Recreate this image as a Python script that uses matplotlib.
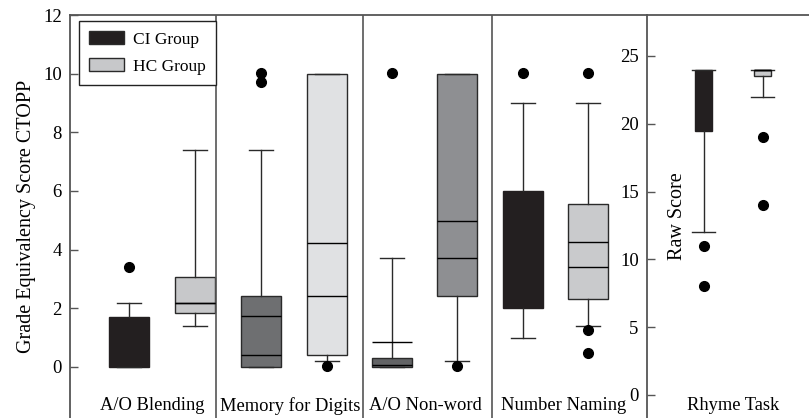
import matplotlib
matplotlib.use("Agg")
import matplotlib.pyplot as plt
from matplotlib.patches import Patch

plt.rcParams['font.family'] = ['Liberation Serif', 'DejaVu Serif']

# ---------------- data ----------------
tasks = ["A/O Blending", "Memory for Digits", "A/O Non-word", "Number Naming"]
groups = ["CI Group", "HC Group"]

# grade equivalency (left axis)
ci_q1 = [0.00, 0.00, 0.00, 2.01]
ci_med = [0.90, 0.41, 0.05, 3.03]
ci_q3 = [1.70, 2.42, 0.32, 6.01]
ci_mean = [0.90, 1.74, 0.86, 4.27]
ci_wlo = [0.00, 0.00, 0.00, 1.00]
ci_whi = [2.18, 7.40, 3.71, 9.00]
ci_fliers = [[3.41], [10.03, 9.73], [10.03], [10.03]]

hc_q1 = [1.84, 0.41, 2.42, 2.31]
hc_med = [2.18, 2.42, 3.71, 3.40]
hc_q3 = [3.07, 10.00, 10.00, 5.56]
hc_mean = [2.18, 4.22, 4.97, 4.27]
hc_wlo = [1.40, 0.21, 0.21, 1.41]
hc_whi = [7.40, 10.00, 10.00, 9.00]
hc_fliers = [[], [0.04], [0.04], [10.03, 1.26, 0.47]]

# rhyme task raw scores (right axis)
rhyme_task = "Rhyme Task"
rh_q1 = [19.47, 23.50]
rh_med = [23.00, 24.00]
rh_q3 = [24.00, 24.00]
rh_wlo = [12.00, 22.00]
rh_whi = [24.00, 24.00]
rh_fliers = [[11.0, 8.04], [19.05, 14.03]]

left_ticks = [0, 2, 4, 6, 8, 10, 12]
right_ticks = [0, 5, 10, 15, 20, 25]

# ---------------- styling / layout ----------------
BLACK = "#231f20"
ci_colors = [BLACK, "#6e6f71", "#636466", BLACK]
hc_colors = ["#c7c8ca", "#e0e1e3", "#8e8f92", "#c9cacc"]
rh_colors = [BLACK, "#c8c9cb"]

W, H = 809, 418
fig = plt.figure(figsize=(W / 100, H / 100), dpi=100)

x0, xr, ytop = 70, 647, 15
ax = fig.add_axes([x0 / W, 0, (xr - x0) / W, 1 - ytop / H])
axr = fig.add_axes([xr / W, 0, (W - xr) / W, 1 - ytop / H])

ci_pos = [129, 261, 392, 523]
hc_pos = [195, 327, 457, 588]
seps = [216, 363, 492]
label_x = [152, 290, 425, 564]
rh_pos = [703.5, 762.5]

edge = "#2a2a2a"
fs = 13.5


def stats(q1, med, q3, mean, lo, hi, fl):
    return dict(q1=q1, med=med, q3=q3, mean=mean, whislo=lo, whishi=hi, fliers=fl)


def draw(a, st, pos, colors, width, capw):
    bp = a.bxp(st, positions=pos, widths=width, capwidths=capw, patch_artist=True,
               showmeans=True, meanline=True, manage_ticks=False,
               boxprops=dict(edgecolor=edge, linewidth=1.0),
               medianprops=dict(color="black", linewidth=1.0),
               meanprops=dict(color="black", linestyle="-", linewidth=1.0),
               whiskerprops=dict(color=edge, linewidth=1.0),
               capprops=dict(color=edge, linewidth=1.0),
               flierprops=dict(marker="o", markerfacecolor="black",
                               markeredgecolor="black", markersize=7))
    for i, (p, c) in enumerate(zip(bp["boxes"], colors)):
        p.set_facecolor(c)
        if c == BLACK:
            p.set_edgecolor(BLACK)
            bp["medians"][i].set_color(BLACK)
            bp["means"][i].set_color(BLACK)


st_all, pos_all, col_all = [], [], []
for i in range(len(tasks)):
    st_all.append(stats(ci_q1[i], ci_med[i], ci_q3[i], ci_mean[i], ci_wlo[i], ci_whi[i], ci_fliers[i]))
    pos_all.append(ci_pos[i]); col_all.append(ci_colors[i])
    st_all.append(stats(hc_q1[i], hc_med[i], hc_q3[i], hc_mean[i], hc_wlo[i], hc_whi[i], hc_fliers[i]))
    pos_all.append(hc_pos[i]); col_all.append(hc_colors[i])
draw(ax, st_all, pos_all, col_all, 40, 24)

rst = [stats(rh_q1[i], rh_med[i], rh_q3[i], rh_med[i], rh_wlo[i], rh_whi[i], rh_fliers[i])
       for i in range(2)]
draw(axr, rst, rh_pos, rh_colors, 17, 23)

# axes setup
ax.set_xlim(x0, xr)
ax.set_ylim(-1.74, 12)
axr.set_xlim(xr, W)
axr.set_ylim(-1.70, 28.02)

spine_c = "#555555"
for a in (ax, axr):
    a.spines["bottom"].set_visible(False)
    a.spines["right"].set_visible(False)
    for s in ("left", "top"):
        a.spines[s].set_color(spine_c)
        a.spines[s].set_linewidth(1.3)
    a.set_xticks([])
    a.tick_params(axis="y", direction="in", length=6, width=1, color=spine_c,
                  labelsize=fs, pad=6)

ax.set_yticks(left_ticks)
axr.set_yticks(right_ticks)

for s in seps:
    ax.axvline(s, color=spine_c, linewidth=1.2)

ax.set_ylabel("Grade Equivalency Score CTOPP", fontsize=14.5, labelpad=5)
axr.text(677, 0.5, "Raw Score", rotation=90, fontsize=14.5, ha="center", va="center",
         transform=axr.get_xaxis_transform())

for t, lx in zip(tasks, label_x):
    ax.text(lx, 0.03, t, ha="center", va="center", fontsize=13.3,
            transform=ax.get_xaxis_transform())
axr.text(733, 0.03, rhyme_task, ha="center", va="center", fontsize=13.3,
         transform=axr.get_xaxis_transform())

handles = [Patch(facecolor=ci_colors[0], edgecolor=edge, label=groups[0]),
           Patch(facecolor=hc_colors[0], edgecolor=edge, label=groups[1])]
leg = ax.legend(handles=handles, loc="upper left",
                bbox_to_anchor=((79 - x0) / (xr - x0), (H - 21) / (H - ytop)),
                borderaxespad=0, fancybox=False, edgecolor="#222222", framealpha=1,
                fontsize=12.5, handlelength=2.0, handleheight=0.75,
                labelspacing=0.6, borderpad=0.6, handletextpad=0.5)
leg.get_frame().set_linewidth(1.0)

fig.savefig("out.png", dpi=100)
